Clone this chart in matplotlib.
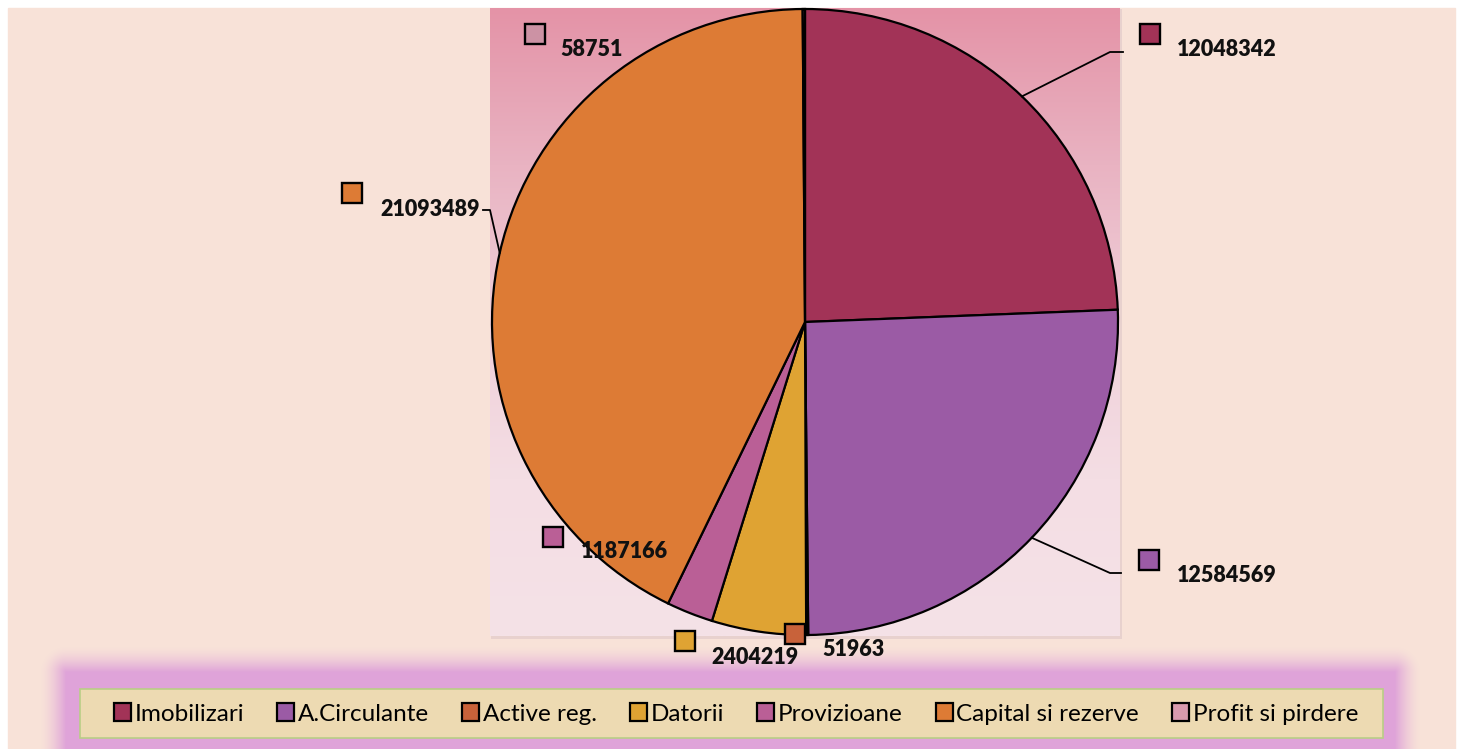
import numpy as np
import matplotlib
matplotlib.use("Agg")
import matplotlib.pyplot as plt
from matplotlib.patches import Rectangle
from matplotlib.colors import LinearSegmentedColormap, to_rgb

# data
categories = ["Imobilizari", "A.Circulante", "Active reg.", "Datorii",
              "Provizioane", "Capital si rezerve", "Profit si pirdere"]
values = [12048342, 12584569, 51963, 2404219, 1187166, 21093489, 58751]
colors = ["#A23357", "#9B5BA5", "#C8623A", "#DFA333",
          "#BA5F96", "#DD7B35", "#D89AAE"]
marker_colors = ["#A23357", "#9B5BA5", "#C8623A", "#DFA333",
                 "#BA5F96", "#DD7B35", "#CC92A4"]

# label layout in pixels: text (left x, centre y), marker centre, leader elbow
text_pos = [(1177, 49), (1177, 576), (822, 649), (711, 657),
            (581, 551), (380, 210), (560, 49)]
marker_pos = [(1150, 34), (1149, 560), (795, 634), (685, 641),
              (553, 537), (352, 193), (535, 34)]
leaders = {0: [(1110, 52), (1123, 52)],
           1: [(1110, 573), (1121, 573)],
           5: [(490, 210), (483, 210)]}

W, H = 1461, 749
fig = plt.figure(figsize=(W / 100, H / 100), dpi=100, facecolor="white")

# background layer
bg = fig.add_axes([0, 0, 1, 1])
bg.set_xlim(0, W)
bg.set_ylim(H, 0)
bg.axis("off")
bg.add_patch(Rectangle((8, 8), 1447, 741, color="#F8E2D8", zorder=0))

# plot area gradient with a faint shadow
grad = LinearSegmentedColormap.from_list(
    "pa", ["#E493A7", "#E9B3C2", "#F0CFD9", "#F4DEE4", "#F5E2E7"])
g = np.linspace(0, 1, 256).reshape(-1, 1)
bg.add_patch(Rectangle((491, 9), 631, 630, color="#E2CACB", alpha=0.7, lw=0, zorder=1))
bg.imshow(g, cmap=grad, aspect="auto", extent=[490, 1120, 636, 8], zorder=2)

# soft legend glow
gx0, gx1, gy0, gy1 = 30, 1430, 640, 749
xs = np.arange(gx0, gx1) + 0.5
ys = np.arange(gy0, gy1) + 0.5
X, Y = np.meshgrid(xs, ys)
dx = np.maximum(np.maximum(66 - X, X - 1395), 0)
dy = np.maximum(672 - Y, 0)
dist = np.hypot(dx, dy)
alpha = np.clip(1 - dist / 26, 0, 1) ** 1.6
glow = np.zeros(X.shape + (4,))
glow[..., :3] = to_rgb("#DFA3D9")
glow[..., 3] = alpha
bg.imshow(glow, extent=[gx0, gx1, gy1, gy0], aspect="auto", zorder=3,
          interpolation="bilinear")
bg.add_patch(Rectangle((80, 689), 1303, 49, facecolor="#EDDAB2",
                       edgecolor="#B9CE86", lw=1.2, zorder=4))

# pie
cx, cy, r = 805, 322, 313
pie_ax = fig.add_axes([(cx - r) / W, (H - cy - r) / H, 2 * r / W, 2 * r / H])
wedges, _ = pie_ax.pie(values, colors=colors, startangle=90, counterclock=False,
                       wedgeprops=dict(edgecolor="black", linewidth=1.6))
pie_ax.set_xlim(-1, 1)
pie_ax.set_ylim(-1, 1)
pie_ax.set_aspect("auto")
pie_ax.patch.set_alpha(0)

# top layer for labels
top = fig.add_axes([0, 0, 1, 1])
top.set_xlim(0, W)
top.set_ylim(H, 0)
top.axis("off")
top.patch.set_alpha(0)

total = sum(values)
cum = 0
for i, v in enumerate(values):
    mid = 90 - (cum + v / 2) / total * 360
    cum += v
    if i in leaders:
        px = cx + r * np.cos(np.radians(mid))
        py = cy - r * np.sin(np.radians(mid))
        pts = [(px, py)] + leaders[i]
        top.plot([p[0] for p in pts], [p[1] for p in pts], color="black", lw=1.3)
    mx, my = marker_pos[i]
    top.add_patch(Rectangle((mx - 10, my - 10), 20, 20, facecolor=marker_colors[i],
                            edgecolor="black", lw=1.7, zorder=5))
    tx, ty = text_pos[i]
    top.text(tx, ty, str(v), fontsize=15.5, fontweight="heavy", family="Lato",
             color="#111111", ha="left", va="center", zorder=6)

leg = top.legend(wedges, categories, ncol=7, loc="center",
                 bbox_to_anchor=(736 / W, 1 - 714 / H), bbox_transform=fig.transFigure,
                 prop=dict(family="Lato", size=17.5), frameon=False,
                 handlelength=0.7, handleheight=0.7, handletextpad=0.15,
                 columnspacing=1.36, borderpad=0.3)

fig.savefig("out.png", dpi=100, facecolor="white")
